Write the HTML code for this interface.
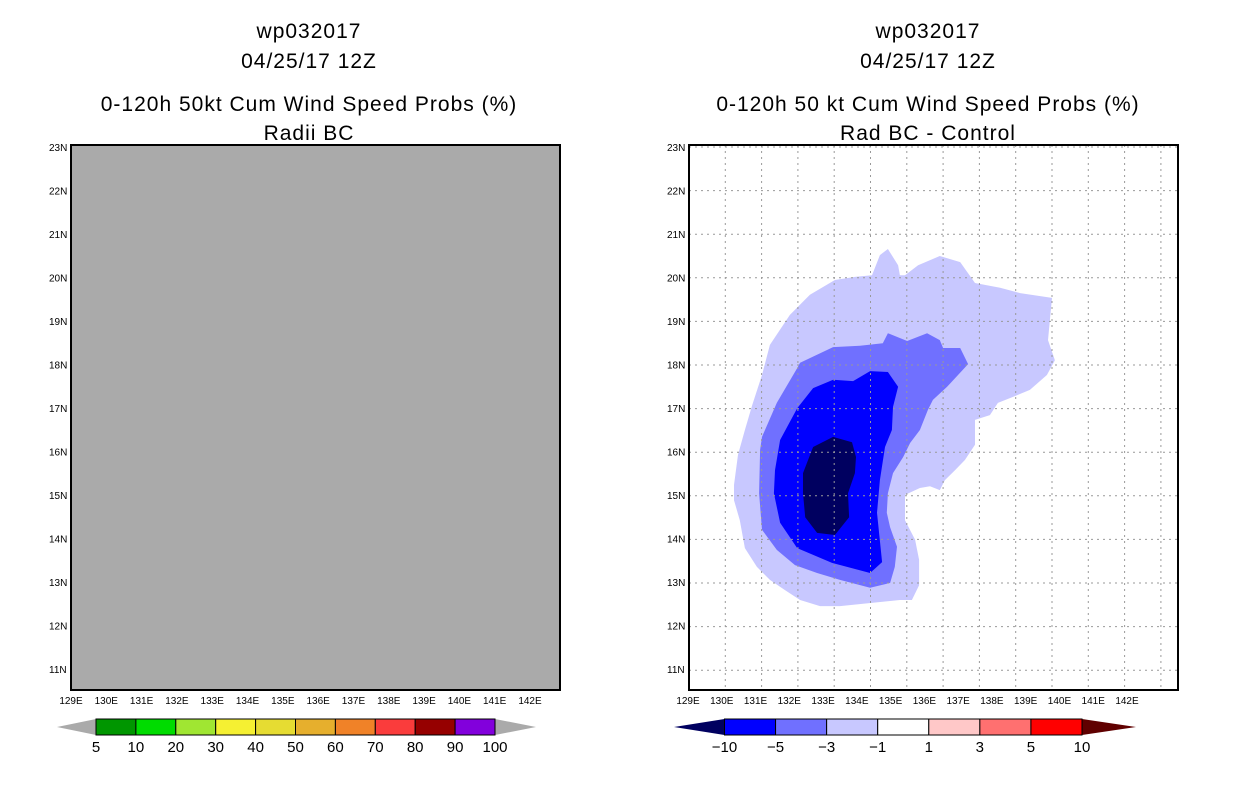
<!DOCTYPE html>
<html><head><meta charset="utf-8"><style>
body{margin:0;background:#fff;}
svg{display:block;font-family:"Liberation Sans",sans-serif;}
.t{font-size:21px;text-anchor:middle;letter-spacing:1px}
.tk{font-size:10px;}
.cb{font-size:15px;text-anchor:middle}
</style></head><body>
<svg id="s" width="1236" height="800" viewBox="0 0 1236 800">
<g>
<text class="t" x="309" y="38">wp032017</text>
<text class="t" x="309" y="68">04/25/17 12Z</text>
<text class="t" x="309" y="111">0-120h 50kt Cum Wind Speed Probs (%)</text>
<text class="t" x="309" y="140">Radii BC</text>
</g>
<g>
<text class="t" x="928" y="38">wp032017</text>
<text class="t" x="928" y="68">04/25/17 12Z</text>
<text class="t" x="928" y="111">0-120h 50 kt Cum Wind Speed Probs (%)</text>
<text class="t" x="928" y="140">Rad BC - Control</text>
</g>
<rect x="71" y="145" width="489" height="545" fill="#aaaaaa" stroke="#000" stroke-width="2"/>
<g id="rp"></g>
<g id="ax"></g>
<g id="cbars"></g>
</svg>
<script>
const latTicks=[23,22,21,20,19,18,17,16,15,14,13,12,11];
const lonTicks=[129,130,131,132,133,134,135,136,137,138,139,140,141,142];
const levelColors=["#c8c8ff","#7070ff","#0000ff","#000060"];
const lev1Lon=[130.24,130.35,130.54,130.74,131.01,131.23,131.78,132.33,133.02,133.57,134.04,134.26,134.48,134.76,134.81,134.95,135.31,135.91,136.47,136.88,137.57,138.12,139.0,138.89,139.08,138.86,138.39,137.84,137.51,137.29,136.88,136.88,136.60,136.33,136.05,135.91,135.64,135.36,134.95,134.95,135.23,135.34,135.34,135.14,134.81,133.16,132.61,132.06,131.64,131.23,130.87,130.54,130.40,130.24];
const lev1Lat=[15.25,15.94,16.51,17.08,17.77,18.46,19.15,19.61,19.95,20.02,20.06,20.52,20.66,20.29,20.06,20.06,20.29,20.50,20.36,19.88,19.77,19.65,19.54,18.57,18.11,17.77,17.43,17.24,17.13,16.85,16.74,16.17,15.82,15.59,15.36,15.13,15.22,15.18,15.02,14.44,13.99,13.53,12.95,12.61,12.61,12.47,12.47,12.61,12.84,13.07,13.37,13.80,14.44,14.90];
const lev2Lon=[130.96,131.01,131.42,131.98,132.06,132.97,133.71,134.34,134.48,135.01,135.56,135.91,136.0,136.47,136.69,136.11,135.72,135.58,135.36,135.09,134.90,134.62,134.48,134.45,134.54,134.73,134.67,134.54,133.99,133.16,132.53,131.92,131.42,131.01,130.93];
const lev2Lat=[16.05,16.35,17.13,17.93,18.05,18.41,18.44,18.50,18.73,18.55,18.73,18.57,18.39,18.39,18.02,17.50,17.20,16.97,16.51,16.21,15.89,15.52,15.06,14.61,14.28,13.83,13.37,13.0,12.89,13.07,13.23,13.41,13.76,14.22,15.06];
const lev3Lon=[131.37,131.51,131.98,132.42,132.97,133.52,133.99,134.48,134.76,134.62,134.59,134.40,134.26,134.18,134.32,133.99,132.94,131.98,131.51,131.34];
const lev3Lat=[15.59,16.28,17.01,17.47,17.66,17.63,17.86,17.84,17.50,17.04,16.51,16.12,15.36,14.61,13.48,13.23,13.46,13.80,14.38,15.06];
const lev4Lon=[132.14,132.42,132.97,133.49,133.60,133.57,133.38,133.41,133.02,132.53,132.20,132.14];
const lev4Lat=[15.52,16.12,16.35,16.23,15.89,15.52,15.06,14.51,14.10,14.15,14.51,15.06];
const probBounds=["5","10","20","30","40","50","60","70","80","90","100"];
const probColors=["#009600","#00dc00","#a0e632","#f5f032","#e6dc32","#e6af2d","#f08228","#fa3c3c","#960000","#8200dc"];
const diffBounds=["\u221210","\u22125","\u22123","\u22121","1","3","5","10"];
const diffColors=["#0000ff","#7070ff","#c8c8ff","#ffffff","#ffc8c8","#ff7070","#ff0000"];

const NS="http://www.w3.org/2000/svg";
function mk(tag,at,par){const e=document.createElementNS(NS,tag);for(const k in at)e.setAttribute(k,at[k]);par.appendChild(e);return e;}
const R={x0:689,x1:1178,y0:145,y1:690};
const xr=lon=>689+(lon-129)*36.3;
const yr=lat=>147+(23-lat)*43.6;
const rp=document.getElementById('rp'),ax=document.getElementById('ax'),cb=document.getElementById('cbars');
const bg=mk('rect',{x:689,y:145,width:489,height:545,fill:"#fff"},rp);


const levs=[[lev1Lon,lev1Lat],[lev2Lon,lev2Lat],[lev3Lon,lev3Lat],[lev4Lon,lev4Lat]];
levs.forEach((L,i)=>{
  const p=mk('polygon',{points:L[0].map((v,j)=>xr(v).toFixed(1)+','+yr(L[1][j]).toFixed(1)).join(' '),fill:levelColors[i]},rp);
  
  
});
for(let lon=130;lon<=142;lon++){const l=mk('line',{x1:xr(lon),x2:xr(lon),y1:145,y2:690,stroke:"#999",'stroke-dasharray':"2,4"},rp);

}
latTicks.forEach(lat=>{const l=mk('line',{x1:689,x2:1178,y1:yr(lat),y2:yr(lat),stroke:"#999",'stroke-dasharray':"2,4"},rp);

});
const fr=mk('rect',{x:689,y:145,width:489,height:545,fill:"none",stroke:"#000","stroke-width":2},rp);


// axes labels
[[71,530,49],[688,1127,667]].forEach(([a,b,yx],pi)=>{
  lonTicks.forEach((lon,i)=>{const x=a+(b-a)*i/(lonTicks.length-1);
    const t=mk('text',{x:x,y:704,class:'tk','text-anchor':'middle'},ax);t.textContent=lon+'E';
    
    });
  latTicks.forEach(lat=>{const y=147+(23-lat)*43.5;
    const t=mk('text',{x:yx,y:y+4,class:'tk'},ax);t.textContent=lat+'N';
    
    });
});
function bar(x0,x1,tl,tr,cols,labs,lc,rc,nm){
  const w=(x1-x0)/cols.length;
  const a=mk('polygon',{points:`${tl},727 ${x0},719 ${x0},735`,fill:lc},cb);
  
  
  const b=mk('polygon',{points:`${tr},727 ${x1},719 ${x1},735`,fill:rc},cb);
  
  
  cols.forEach((c,i)=>{const r=mk('rect',{x:x0+i*w,y:719,width:w,height:16,fill:c,stroke:"#000","stroke-width":1},cb);
    
    });
  labs.forEach((s,i)=>{const t=mk('text',{x:x0+i*w,y:752,class:'cb'},cb);t.textContent=s;
    
    });
}
bar(96,495,57,536,probColors,probBounds,"#aaaaaa","#aaaaaa","prob-colorbar");
bar(724.5,1082,674,1136,diffColors,diffBounds,"#000060","#600000","diff-colorbar");
</script>
</body></html>
